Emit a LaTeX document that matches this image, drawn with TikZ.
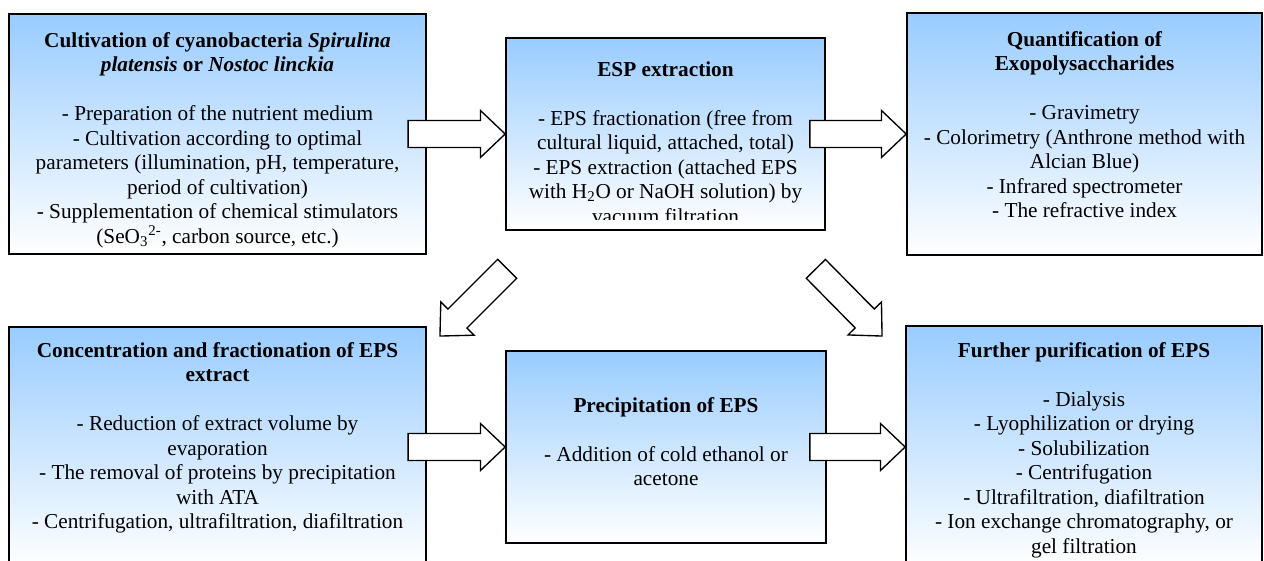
\documentclass[tikz,border=0pt]{standalone}
\usepackage{fontspec}
\setmainfont{Liberation Serif}
\usetikzlibrary{calc,fit}
\definecolor{boxblue}{HTML}{99CCFF}

\tikzset{
  stage/.style={draw=black, line width=1pt, top color=boxblue, bottom color=white, inner sep=0pt},
  stagetext/.style={anchor=north, inner sep=0pt, align=center, font=\fontsize{12.5}{14.4}\selectfont},
  fatline/.style={draw=black, fill=white, line width=0.8pt}
}

% hollow block arrow from tail #1 to tip #2
\newcommand{\fatarrow}[2]{%
  \path let \p1=($(#2)-(#1)$) in
    \pgfextra{\pgfmathsetmacro\fatang{atan2(\y1,\x1)}%
      \pgfmathsetmacro\fatlen{veclen(\x1,\y1)}%
      \global\let\fatang\fatang\global\let\fatlen\fatlen};
  \draw[fatline, shift={(#1)}, rotate=\fatang]
    (0pt,-7.9pt) -- (\fatlen pt-14.5pt,-7.9pt) -- (\fatlen pt-14.5pt,-13.8pt)
    -- (\fatlen pt,0pt) -- (\fatlen pt-14.5pt,13.8pt) -- (\fatlen pt-14.5pt,7.9pt)
    -- (0pt,7.9pt) -- cycle;
}

\begin{document}
\begin{tikzpicture}[x=0.588pt, y=-0.588pt]
\useasboundingbox (0,0) rectangle (1264,561);
\clip (0,0) rectangle (1264,561);
% boxes
\node[stage, fit={(9,14) (426,254)}] (box1) {};
\node[stage, fit={(506,38) (825,230)}] (box2) {};
\node[stage, fit={(907,13) (1262,255)}] (box3) {};
\node[stage, fit={(9,327) (426,568)}] (box4) {};
\node[stage, fit={(506,351) (826,543)}] (box5) {};
\node[stage, fit={(906,326) (1262,568)}] (box6) {};
% texts
\node[stagetext] (t1) at ($(box1.north)+(0,19)$) {\textbf{Cultivation of cyanobacteria \textit{Spirulina}}\\
  \textbf{\textit{platensis} or \textit{Nostoc linckia}}\\[14.4pt]
  - Preparation of the nutrient medium\\
  - Cultivation according to optimal\\
  parameters (illumination, pH, temperature,\\
  period of cultivation)\\
  - Supplementation of chemical stimulators\\
  (SeO\textsubscript{3}\textsuperscript{2-}, carbon source, etc.)};
\begin{scope}
\clip (box2.north west) rectangle ($(box2.south east)+(0,-11)$);
\node[stagetext] (t2) at ($(box2.north)+(0,24)$) {\textbf{ESP extraction}\\[14.4pt]
  - EPS fractionation (free from\\
  cultural liquid, attached, total)\\
  - EPS extraction (attached EPS\\
  with H\textsubscript{2}O or NaOH solution) by\\
  vacuum filtration};
\end{scope}
\node[stagetext] (t3) at ($(box3.north)+(0,19)$) {\textbf{Quantification of}\\
  \textbf{Exopolysaccharides}\\[14.4pt]
  - Gravimetry\\
  - Colorimetry (Anthrone method with\\
  Alcian Blue)\\
  - Infrared spectrometer\\
  - The refractive index};
\node[stagetext] (t4) at ($(box4.north)+(0,16)$) {\textbf{Concentration and fractionation of EPS}\\
  \textbf{extract}\\[14.4pt]
  - Reduction of extract volume by\\
  evaporation\\
  - The removal of proteins by precipitation\\
  with ATA\\
  - Centrifugation, ultrafiltration, diafiltration};
\node[stagetext] (t5) at ($(box5.north)+(0,47)$) {\textbf{Precipitation of EPS}\\[14.4pt]
  - Addition of cold ethanol or\\
  acetone};
\node[stagetext] (t6) at ($(box6.north)+(0,17)$) {\textbf{Further purification of EPS}\\[14.4pt]
  - Dialysis\\
  - Lyophilization or drying\\
  - Solubilization\\
  - Centrifugation\\
  - Ultrafiltration, diafiltration\\
  - Ion exchange chromatography, or\\
  gel filtration};
% arrows
\coordinate (a1) at ($(box2.west)+(-97,0)$);
\coordinate (a2) at ($(box2.east)+(-16,0)$);
\coordinate (a3) at ($(box5.west)+(-97,0)$);
\coordinate (a4) at ($(box5.east)+(-17,0)$);
\coordinate (d1) at ($(box2.south west)+(2,38)$);
\coordinate (d1t) at ($(box4.north east)+(13,10)$);
\coordinate (d2) at ($(box2.south east)+(-10,38)$);
\coordinate (d2t) at ($(box6.north west)+(-23,11)$);
\fatarrow{a1}{box2.west}
\fatarrow{a2}{box3.west}
\fatarrow{a3}{box5.west}
\fatarrow{a4}{box5.east -| box6.west}
\fatarrow{d1}{d1t}
\fatarrow{d2}{d2t}
\end{tikzpicture}
\end{document}
